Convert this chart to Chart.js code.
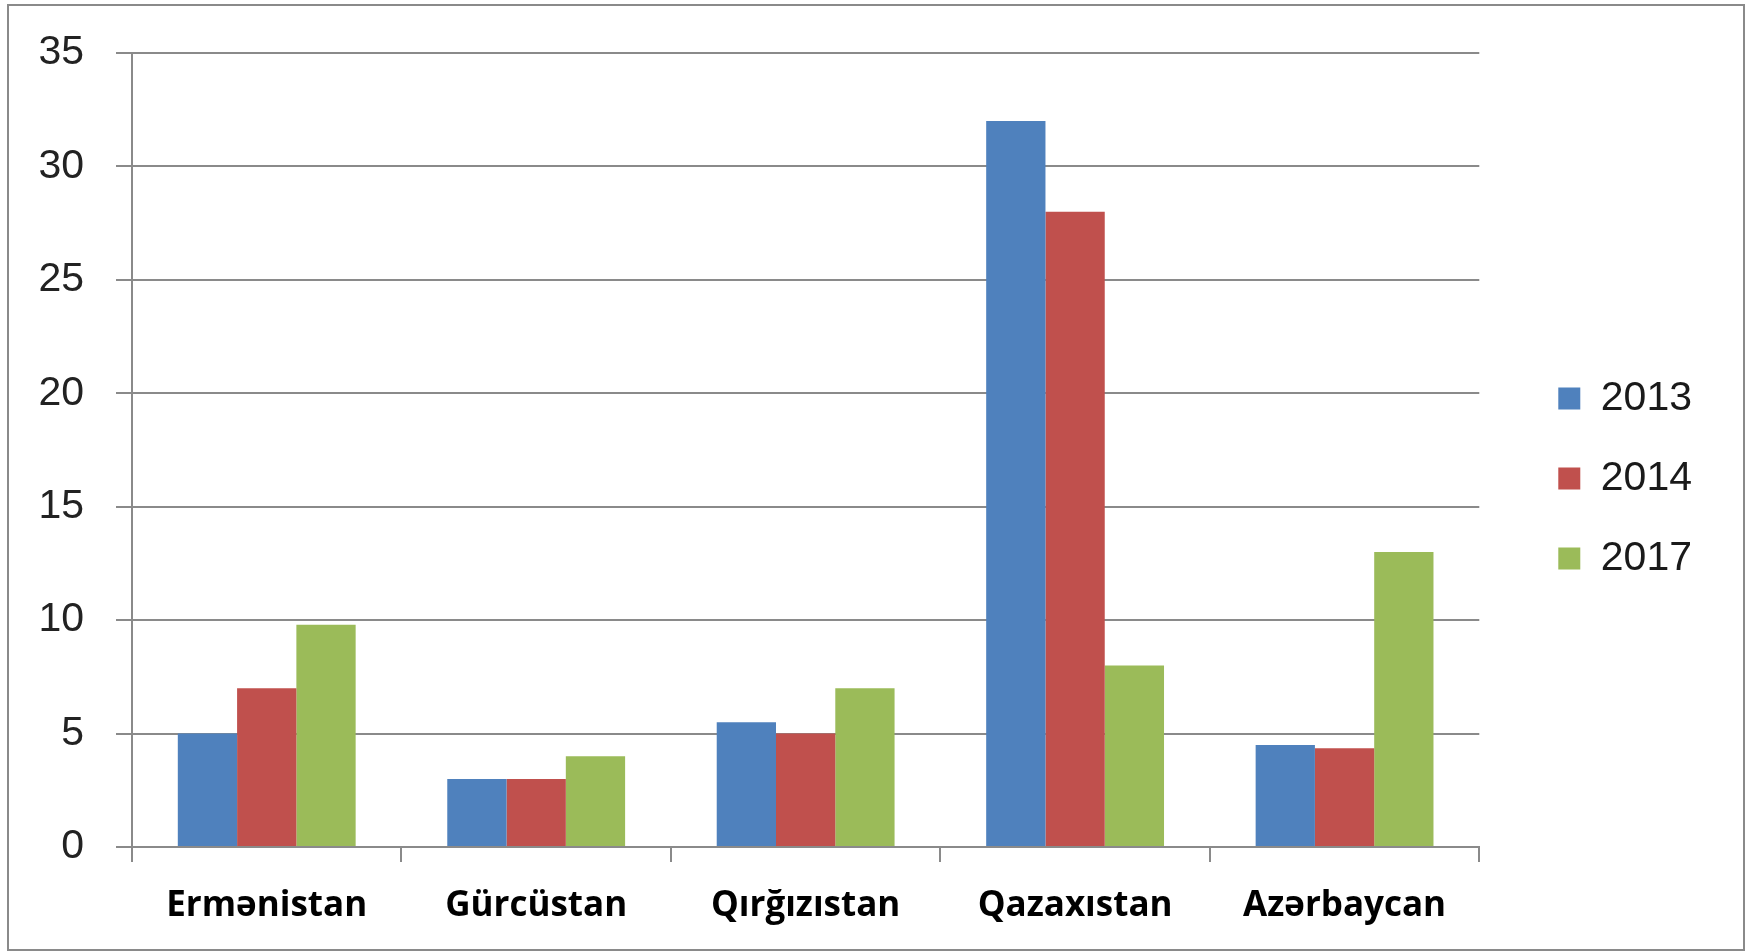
<!DOCTYPE html>
<html>
<head>
<meta charset="utf-8">
<title>2013, 2014, 2017</title>
<script src="https://cdn.jsdelivr.net/npm/chart.js@4.4.1/dist/chart.umd.min.js"></script>
<style>
    html, body { margin: 0; padding: 0; background: #fff; overflow: hidden; }
    #wrap { position: absolute; left: 0; top: 0; width: 1748px; height: 952px; }
    #frame { position: absolute; left: 7px; top: 4px; width: 1734px; height: 943px; border: 2px solid #8a8a8a; pointer-events: none; }
</style>
</head>
<body>
<div id="wrap"><canvas id="barChart" width="1748" height="952"></canvas></div>
<div id="frame"></div>
<script>
// ölkələr və illər üzrə göstəricilər
const countries = ['Ermənistan', 'Gürcüstan', 'Qırğızıstan', 'Qazaxıstan', 'Azərbaycan'];
const years = ['2013', '2014', '2017'];
const values2013 = [5, 3, 5.5, 32, 4.5];
const values2014 = [7, 3, 5, 28, 4.35];
const values2017 = [9.8, 4, 7, 8, 13];
const yTicks = [0, 5, 10, 15, 20, 25, 30, 35];

const colors = ['#4F81BD', '#C0504D', '#9BBB59'];
const gridColor = '#8a8a8a';

// legend sits further right and a bit higher than the default layout puts it
const legendShift = {
    id: 'legendShift',
    afterLayout(chart) {
        const lg = chart.legend;
        if (!lg) return;
        lg.left += 40;
        lg.right += 40;
        lg.top -= 24;
        lg.bottom -= 24;
    }
};

document.addEventListener('DOMContentLoaded', () => {
    const canvas = document.getElementById('barChart');

    new Chart(canvas, {
        type: 'bar',
        data: {
            labels: countries,
            datasets: [values2013, values2014, values2017].map((vals, i) => ({
                label: years[i],
                data: vals,
                backgroundColor: colors[i],
                borderWidth: 0,
                categoryPercentage: 0.66,
                barPercentage: 1
            }))
        },
        options: {
            responsive: false,
            animation: false,
            layout: { padding: { left: 0, top: 53, right: 86, bottom: 0 } },
            plugins: {
                tooltip: { enabled: false },
                legend: {
                    position: 'right',
                    labels: {
                        boxWidth: 22,
                        boxHeight: 22,
                        padding: 39,
                        color: '#1a1a1a',
                        font: { family: 'Liberation Sans', size: 41 }
                    }
                }
            },
            scales: {
                x: {
                    offset: true,
                    grid: {
                        offset: true,
                        drawOnChartArea: false,
                        drawTicks: true,
                        tickLength: 15,
                        color: gridColor,
                        lineWidth: 2
                    },
                    border: { display: true, color: gridColor, width: 2 },
                    ticks: {
                        color: '#000',
                        padding: 23,
                        font: { family: 'Open Sans', size: 35, weight: 'bold' }
                    },
                    afterFit: (scale) => { scale.height = 105; }
                },
                y: {
                    min: 0,
                    max: 35,
                    afterBuildTicks: (scale) => { scale.ticks = yTicks.map(v => ({ value: v })); },
                    grid: {
                        color: gridColor,
                        lineWidth: 2,
                        tickLength: 16
                    },
                    border: { display: true, color: gridColor, width: 2 },
                    ticks: {
                        color: '#222',
                        padding: 32,
                        font: { family: 'Liberation Sans', size: 41 }
                    },
                    afterFit: (scale) => {
                        scale.width = 132;
                        // tick padding would otherwise push the plot top down
                        scale.paddingTop = 20;
                        scale.paddingBottom = 20;
                    }
                }
            }
        },
        plugins: [legendShift]
    });
});
</script>
</body>
</html>
